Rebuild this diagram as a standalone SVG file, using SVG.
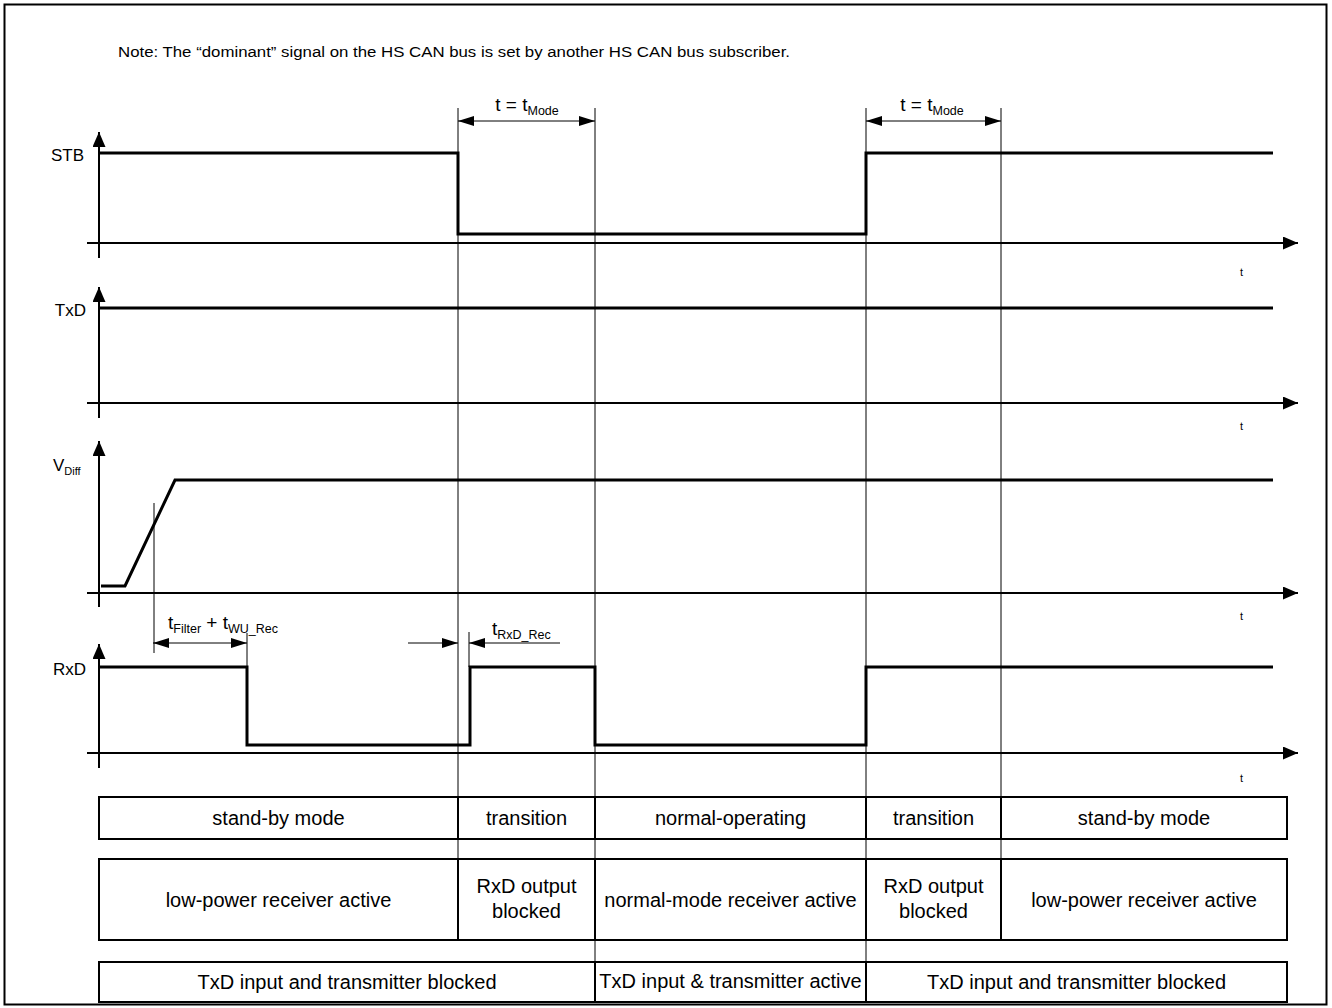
<svg xmlns="http://www.w3.org/2000/svg" width="1332" height="1008" viewBox="0 0 1332 1008">
<style>
text{font-family:"Liberation Sans",Arial,sans-serif;fill:#000}
.lbl{font-size:17px}
.box{fill:#fff;stroke:#000;stroke-width:2}
.bt{font-size:20px;text-anchor:middle}
.axis{fill:none;stroke:#000;stroke-width:2}
.sig{fill:none;stroke:#000;stroke-width:3;stroke-linejoin:miter}
.thin{fill:none;stroke:#000;stroke-width:1}
.dim{fill:none;stroke:#000;stroke-width:1}
.tl{font-size:11px}
.dt{font-size:19px}
.sub{font-size:12.5px}
</style>
<defs>
<marker id="ax" markerUnits="userSpaceOnUse" markerWidth="15" markerHeight="13" refX="15" refY="6.5" orient="auto"><path d="M0,0 L15,6.5 L0,13 z" fill="#000"/></marker>
<marker id="da" markerUnits="userSpaceOnUse" markerWidth="16" markerHeight="10" refX="16" refY="5" orient="auto-start-reverse"><path d="M0,0 L16,5 L0,10 z" fill="#000"/></marker>
</defs>
<rect id="frame" x="4.5" y="4.5" width="1322" height="1000" fill="#fff" stroke="#000" stroke-width="2"/>
<g id="note"><text x="118" y="57" font-size="15.5" textLength="672" lengthAdjust="spacingAndGlyphs">Note: The “dominant” signal on the HS CAN bus is set by another HS CAN bus subscriber.</text></g>
<g id="connectors">
<path class="thin" d="M458,108 V940 M1001,108 V940 M595,108 V962 M866,108 V962 M154,503 V653 M247,633 V667 M469,632 V667"/>
<line class="dim" x1="458" y1="121" x2="595" y2="121" marker-start="url(#da)" marker-end="url(#da)"/>
<line class="dim" x1="866" y1="121" x2="1001" y2="121" marker-start="url(#da)" marker-end="url(#da)"/>
<line class="dim" x1="153" y1="643" x2="247" y2="643" marker-start="url(#da)" marker-end="url(#da)"/>
<line class="dim" x1="408" y1="643" x2="458" y2="643" marker-end="url(#da)"/>
<line class="dim" x1="560" y1="643" x2="469" y2="643" marker-end="url(#da)"/>
<text class="dt" x="527" y="111" text-anchor="middle">t = t<tspan class="sub" dy="4">Mode</tspan></text>
<text class="dt" x="932" y="111" text-anchor="middle">t = t<tspan class="sub" dy="4">Mode</tspan></text>
<text class="dt" x="168" y="629">t<tspan class="sub" dy="4">Filter</tspan><tspan dy="-4"> + t</tspan><tspan class="sub" dy="4">WU_Rec</tspan></text>
<text class="dt" x="492" y="635">t<tspan class="sub" dy="4">RxD_Rec</tspan></text>
</g>
<g id="axes">
<line class="axis" x1="99" y1="258" x2="99" y2="132" marker-end="url(#ax)"/>
<line class="axis" x1="87" y1="243" x2="1298" y2="243" marker-end="url(#ax)"/>
<line class="axis" x1="99" y1="418" x2="99" y2="287" marker-end="url(#ax)"/>
<line class="axis" x1="87" y1="403" x2="1298" y2="403" marker-end="url(#ax)"/>
<line class="axis" x1="99" y1="607" x2="99" y2="441" marker-end="url(#ax)"/>
<line class="axis" x1="87" y1="593" x2="1298" y2="593" marker-end="url(#ax)"/>
<line class="axis" x1="99" y1="768" x2="99" y2="644" marker-end="url(#ax)"/>
<line class="axis" x1="87" y1="753" x2="1298" y2="753" marker-end="url(#ax)"/>
<text class="tl" x="1240" y="276">t</text>
<text class="tl" x="1240" y="430">t</text>
<text class="tl" x="1240" y="620">t</text>
<text class="tl" x="1240" y="782">t</text>
</g>
<g id="labels">
<text class="lbl" x="84" y="161" text-anchor="end">STB</text>
<text class="lbl" x="86" y="316" text-anchor="end">TxD</text>
<text class="lbl" x="53" y="471">V<tspan font-size="11" dy="4">Diff</tspan></text>
<text class="lbl" x="86" y="675" text-anchor="end">RxD</text>
</g>
<g id="signals">
<path id="sig-stb" class="sig" d="M99,153 H458 V234 H866 V153 H1273"/>
<path id="sig-txd" class="sig" d="M99,308 H1273"/>
<path id="sig-vdiff" class="sig" d="M101,586 H125 L175,480 H1273"/>
<path id="sig-rxd" class="sig" d="M99,667 H247 V745 H470 V667 H595 V745 H866 V667 H1273"/>
</g>
<g id="row1">
<g id="r1c1"><rect class="box" x="99" y="797" width="359" height="42"/><text class="bt" x="278.5" y="825">stand-by mode</text></g>
<g id="r1c2"><rect class="box" x="458" y="797" width="137" height="42"/><text class="bt" x="526.5" y="825">transition</text></g>
<g id="r1c3"><rect class="box" x="595" y="797" width="271" height="42"/><text class="bt" x="730.5" y="825">normal-operating</text></g>
<g id="r1c4"><rect class="box" x="866" y="797" width="135" height="42"/><text class="bt" x="933.5" y="825">transition</text></g>
<g id="r1c5"><rect class="box" x="1001" y="797" width="286" height="42"/><text class="bt" x="1144" y="825">stand-by mode</text></g>
</g>
<g id="row2">
<g id="r2c1"><rect class="box" x="99" y="859" width="359" height="81"/><text class="bt" x="278.5" y="907">low-power receiver active</text></g>
<g id="r2c2"><rect class="box" x="458" y="859" width="137" height="81"/><text class="bt" x="526.5" y="893">RxD output</text><text class="bt" x="526.5" y="918">blocked</text></g>
<g id="r2c3"><rect class="box" x="595" y="859" width="271" height="81"/><text class="bt" x="730.5" y="907">normal-mode receiver active</text></g>
<g id="r2c4"><rect class="box" x="866" y="859" width="135" height="81"/><text class="bt" x="933.5" y="893">RxD output</text><text class="bt" x="933.5" y="918">blocked</text></g>
<g id="r2c5"><rect class="box" x="1001" y="859" width="286" height="81"/><text class="bt" x="1144" y="907">low-power receiver active</text></g>
</g>
<g id="row3">
<g id="r3c1"><rect class="box" x="99" y="962" width="496" height="40"/><text class="bt" x="347" y="989">TxD input and transmitter blocked</text></g>
<g id="r3c2"><rect class="box" x="595" y="962" width="271" height="40"/><text class="bt" x="730.5" y="988" font-size="17.5">TxD input &amp; transmitter active</text></g>
<g id="r3c3"><rect class="box" x="866" y="962" width="421" height="40"/><text class="bt" x="1076.5" y="989">TxD input and transmitter blocked</text></g>
</g>
</svg>
